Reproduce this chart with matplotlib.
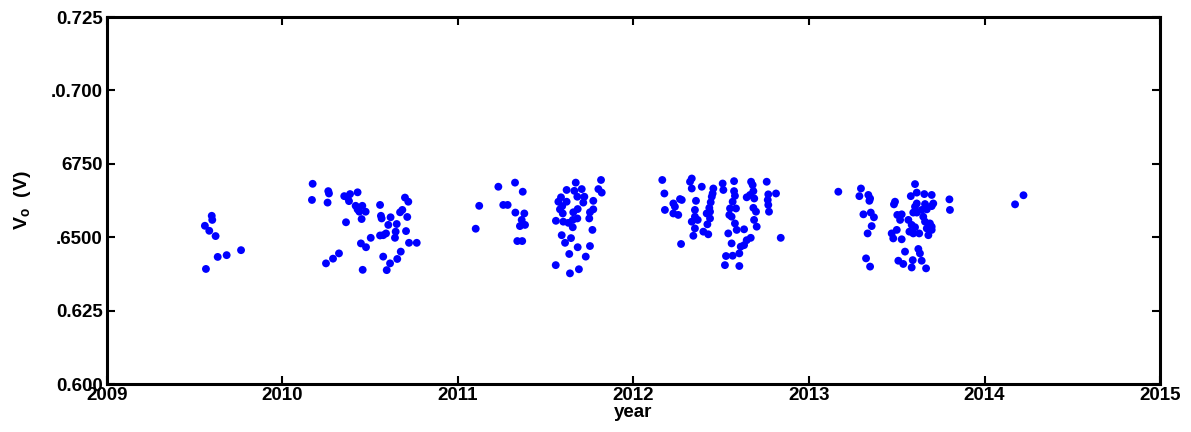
import matplotlib
matplotlib.use("Agg")
import matplotlib.pyplot as plt

# measurement campaigns: decimal year and open-circuit voltage (V)
year_2009 = [2009.597, 2009.600, 2009.558, 2009.583, 2009.619, 2009.564,
             2009.631, 2009.682, 2009.764]
volt_2009 = [0.6573, 0.6559, 0.6539, 0.6522, 0.6504, 0.6392,
             0.6433, 0.6439, 0.6456]

year_2010 = [2010.172, 2010.168, 2010.261, 2010.265, 2010.257, 2010.352,
             2010.371, 2010.385, 2010.379, 2010.428, 2010.417, 2010.428,
             2010.455, 2010.438, 2010.474, 2010.451, 2010.362, 2010.556,
             2010.561, 2010.565, 2010.616, 2010.603, 2010.651, 2010.670,
             2010.683, 2010.698, 2010.717, 2010.711, 2010.704, 2010.645,
             2010.641, 2010.590, 2010.556, 2010.574, 2010.503, 2010.447,
             2010.476, 2010.322, 2010.288, 2010.248, 2010.457, 2010.574,
             2010.613, 2010.594, 2010.654, 2010.674, 2010.721, 2010.765]
volt_2010 = [0.6682, 0.6627, 0.6657, 0.6649, 0.6618, 0.6640,
             0.6635, 0.6647, 0.6623, 0.6653, 0.6607, 0.6595,
             0.6607, 0.6587, 0.6587, 0.6562, 0.6551, 0.6610,
             0.6573, 0.6564, 0.6568, 0.6542, 0.6545, 0.6585,
             0.6593, 0.6635, 0.6621, 0.6569, 0.6521, 0.6519,
             0.6498, 0.6513, 0.6506, 0.6507, 0.6498, 0.6479,
             0.6466, 0.6445, 0.6427, 0.6411, 0.6389, 0.6434,
             0.6411, 0.6388, 0.6426, 0.6451, 0.6481, 0.6481]

year_2011 = [2011.101, 2011.121, 2011.230, 2011.325, 2011.369, 2011.258,
             2011.283, 2011.327, 2011.378, 2011.363, 2011.382, 2011.353,
             2011.338, 2011.366,
             2011.815, 2011.800, 2011.819, 2011.671, 2011.705, 2011.619,
             2011.663, 2011.587, 2011.572, 2011.619, 2011.680, 2011.720,
             2011.714, 2011.771, 2011.771, 2011.752, 2011.748, 2011.682,
             2011.657, 2011.594, 2011.581, 2011.597, 2011.558, 2011.600,
             2011.629, 2011.654, 2011.680, 2011.654, 2011.766, 2011.591,
             2011.644, 2011.610, 2011.682, 2011.752, 2011.634, 2011.728,
             2011.557, 2011.638, 2011.689]
volt_2011 = [0.6529, 0.6607, 0.6672, 0.6686, 0.6655, 0.6610,
             0.6610, 0.6584, 0.6581, 0.6559, 0.6542, 0.6538,
             0.6487, 0.6487,
             0.6695, 0.6664, 0.6652, 0.6686, 0.6664, 0.6661,
             0.6658, 0.6636, 0.6621, 0.6621, 0.6638, 0.6638,
             0.6618, 0.6624, 0.6595, 0.6585, 0.6564, 0.6596,
             0.6585, 0.6606, 0.6595, 0.6581, 0.6556, 0.6553,
             0.6549, 0.6559, 0.6564, 0.6534, 0.6525, 0.6507,
             0.6497, 0.6481, 0.6466, 0.6470, 0.6443, 0.6434,
             0.6405, 0.6377, 0.6391]

year_2012 = [2012.164, 2012.176, 2012.179, 2012.227, 2012.236, 2012.227,
             2012.255, 2012.265, 2012.275, 2012.271, 2012.332, 2012.322,
             2012.332, 2012.389, 2012.356, 2012.350, 2012.350, 2012.332,
             2012.366, 2012.350, 2012.341, 2012.398, 2012.426, 2012.421,
             2012.417, 2012.436, 2012.432, 2012.440, 2012.446, 2012.455,
             2012.451, 2012.436,
             2012.508, 2012.512, 2012.573, 2012.573, 2012.578, 2012.565,
             2012.550, 2012.584, 2012.546, 2012.559, 2012.578, 2012.588,
             2012.630, 2012.540, 2012.559, 2012.611, 2012.630, 2012.645,
             2012.668, 2012.603, 2012.527, 2012.565, 2012.521, 2012.603,
             2012.670, 2012.679, 2012.683, 2012.664, 2012.645, 2012.688,
             2012.683, 2012.698, 2012.687, 2012.702, 2012.759, 2012.768,
             2012.812, 2012.765, 2012.768, 2012.772, 2012.839]
volt_2012 = [0.6695, 0.6649, 0.6593, 0.6615, 0.6604, 0.6581,
             0.6576, 0.6630, 0.6627, 0.6477, 0.6700, 0.6689,
             0.6666, 0.6672, 0.6624, 0.6593, 0.6570, 0.6553,
             0.6559, 0.6530, 0.6505, 0.6519, 0.6510, 0.6544,
             0.6581, 0.6587, 0.6600, 0.6619, 0.6638, 0.6666,
             0.6649, 0.6564,
             0.6683, 0.6661, 0.6691, 0.6657, 0.6641, 0.6621,
             0.6598, 0.6598, 0.6576, 0.6570, 0.6547, 0.6525,
             0.6527, 0.6513, 0.6479, 0.6468, 0.6473, 0.6490,
             0.6498, 0.6445, 0.6436, 0.6437, 0.6405, 0.6402,
             0.6689, 0.6678, 0.6657, 0.6644, 0.6636, 0.6632,
             0.6600, 0.6587, 0.6559, 0.6536, 0.6689, 0.6646,
             0.6649, 0.6627, 0.6610, 0.6587, 0.6498]

year_2013 = [2013.167, 2013.296, 2013.287, 2013.338, 2013.348, 2013.344,
             2013.310, 2013.352, 2013.370, 2013.357, 2013.334, 2013.325,
             2013.348,
             2013.604, 2013.614, 2013.580, 2013.657, 2013.699, 2013.490,
             2013.484, 2013.614, 2013.604, 2013.661, 2013.708, 2013.699,
             2013.503, 2013.528, 2013.594, 2013.614, 2013.642, 2013.671,
             2013.519, 2013.566, 2013.651, 2013.661, 2013.689, 2013.699,
             2013.585, 2013.604, 2013.671, 2013.500, 2013.471, 2013.480,
             2013.528, 2013.572, 2013.594, 2013.628, 2013.680, 2013.699,
             2013.800, 2013.803, 2013.547, 2013.623, 2013.632, 2013.509,
             2013.537, 2013.591, 2013.642, 2013.585, 2013.667]
volt_2013 = [0.6655, 0.6666, 0.6640, 0.6644, 0.6632, 0.6624,
             0.6578, 0.6584, 0.6568, 0.6538, 0.6513, 0.6428,
             0.6400,
             0.6681, 0.6652, 0.6640, 0.6647, 0.6644, 0.6621,
             0.6612, 0.6615, 0.6604, 0.6613, 0.6615, 0.6606,
             0.6576, 0.6578, 0.6584, 0.6584, 0.6593, 0.6595,
             0.6559, 0.6559, 0.6570, 0.6553, 0.6547, 0.6536,
             0.6542, 0.6534, 0.6530, 0.6525, 0.6513, 0.6496,
             0.6493, 0.6519, 0.6513, 0.6513, 0.6507, 0.6525,
             0.6629, 0.6593, 0.6451, 0.6460, 0.6445, 0.6420,
             0.6409, 0.6422, 0.6420, 0.6397, 0.6394]

year_2014 = [2014.174, 2014.222]
volt_2014 = [0.6612, 0.6643]

year_ticks = [2009, 2010, 2011, 2012, 2013, 2014, 2015]
volt_ticks = [0.600, 0.625, 0.650, 0.675, 0.700, 0.725]
volt_tick_labels = ["0.600", "0.625", ".6500", "6750", ".0.700", "0.725"]

plt.rcParams["font.family"] = ["Liberation Sans", "DejaVu Sans"]
plt.rcParams["font.weight"] = "bold"
plt.rcParams["mathtext.default"] = "regular"

fig = plt.figure(figsize=(11.91, 4.32), dpi=100)
ax = fig.add_axes([0.0898, 0.111, 0.8842, 0.8496])

groups = [
    (year_2009, volt_2009),
    (year_2010, volt_2010),
    (year_2011, volt_2011),
    (year_2012, volt_2012),
    (year_2013, volt_2013),
    (year_2014, volt_2014),
]
for yrs, volts in groups:
    ax.scatter(yrs, volts, s=32, color="#0000ff", edgecolors="none", zorder=3)

ax.set_xlim(2009, 2015)
ax.set_ylim(0.600, 0.725)
ax.set_xticks(year_ticks)
ax.set_xticklabels([str(y) for y in year_ticks])
ax.set_yticks(volt_ticks)
ax.set_yticklabels(volt_tick_labels)

ax.tick_params(direction="in", length=6, width=1.5, labelsize=13.5,
               top=True, right=True, pad=3)
ax.tick_params(axis="x", pad=2)
for sp in ax.spines.values():
    sp.set_linewidth(2.2)

ax.set_xlabel("year", fontsize=13.5, fontweight="bold", labelpad=0)
ax.set_ylabel(r"V$_o$  (V)", fontsize=14, fontweight="bold", labelpad=13)

fig.savefig("out.png", dpi=100)
plt.close(fig)
